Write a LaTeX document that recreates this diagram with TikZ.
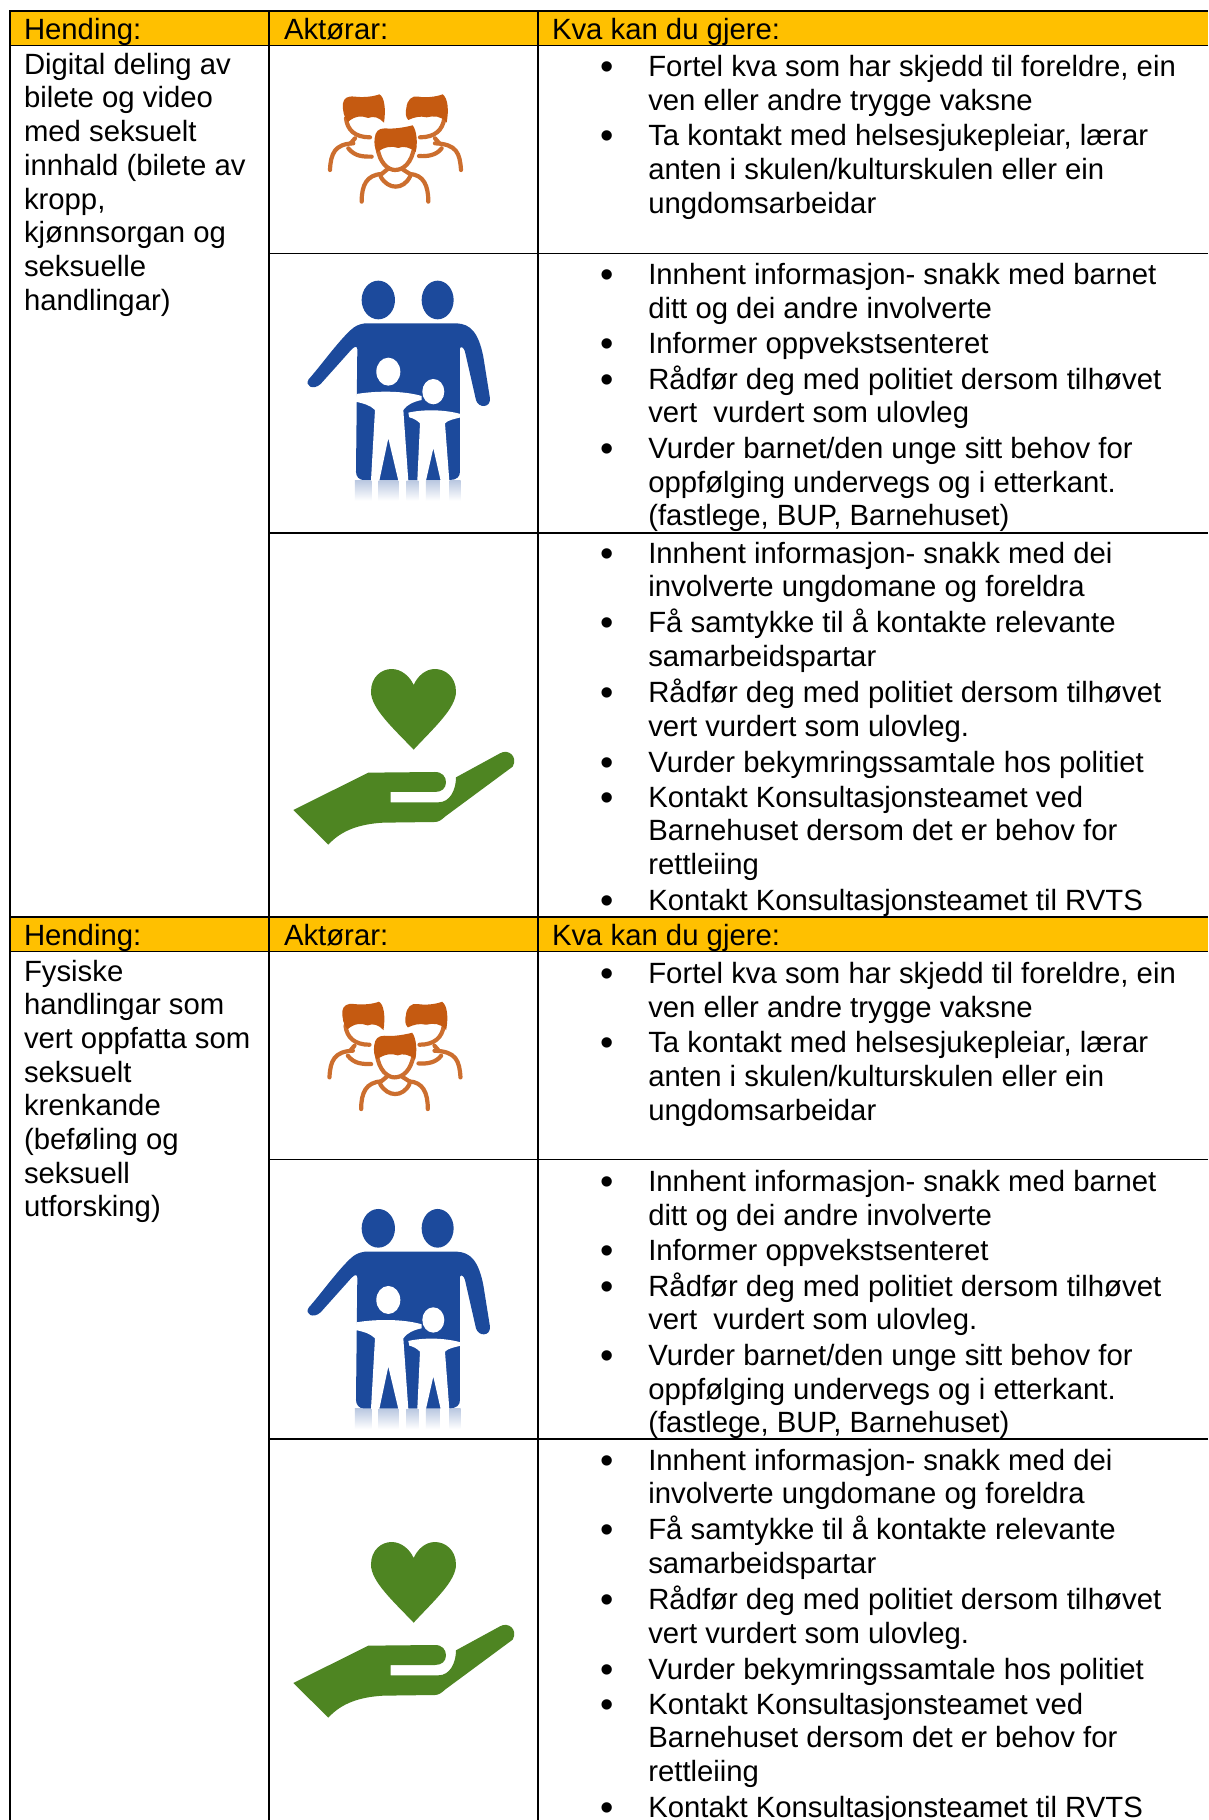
\documentclass[tikz,border=0pt]{standalone}
\usepackage{fontspec}
\setmainfont{Liberation Sans}
\definecolor{hdrc}{HTML}{FFC000}
\definecolor{orgc}{HTML}{C55A11}
\definecolor{bluc}{HTML}{1C4A9C}
\definecolor{grnc}{HTML}{4E8522}
\newcounter{nn}
\newcommand{\TxOff}{0}
\newcommand{\EndDot}{}
\newcommand{\Tx}[3]{\stepcounter{nn}\node[txt] (n\arabic{nn}) at (#1,#2) {#3};}
\newcommand{\Ln}[2]{\Tx{648.3}{{#1+\TxOff}}{#2}}
\newcommand{\Bl}[2]{\stepcounter{nn}\node[bul] (b\arabic{nn}) at (607,{#1+\TxOff+3}) {•};\Ln{#1}{#2}}
\newcommand{\TableBlock}{%
  \fill[hdrc] (10,11) rectangle (1208,45.5);
  \draw[rule] (10,11) -- (1208,11);
  \draw[rule] (10,45.5) -- (1208,45.5);
  \draw[rule] (269,253.5) -- (1208,253.5);
  \draw[rule] (269,533) -- (1208,533);
  \Tx{24}{39.5}{Hending:}
  \Tx{284}{39.5}{Aktørar:}
  \Tx{552}{39.5}{Kva kan du gjere:}
  \Bl{76.7}{Fortel kva som har skjedd til foreldre, ein}
  \Ln{110.3}{ven eller andre trygge vaksne}
  \Bl{145.2}{Ta kontakt med helsesjukepleiar, lærar}
  \Ln{179.6}{anten i skulen/kulturskulen eller ein}
  \Ln{213.2}{ungdomsarbeidar}
  \Bl{284.5}{Innhent informasjon- snakk med barnet}
  \Ln{318.1}{ditt og dei andre involverte}
  \Bl{353}{Informer oppvekstsenteret}
  \Bl{389}{Rådfør deg med politiet dersom tilhøvet}
  \Ln{422.8}{vert\ \ vurdert som ulovleg\EndDot}
  \Bl{458.5}{Vurder barnet/den unge sitt behov for}
  \Ln{492.1}{oppfølging undervegs og i etterkant.}
  \Ln{525.7}{(fastlege, BUP, Barnehuset)}
  \Bl{563}{Innhent informasjon- snakk med dei}
  \Ln{596.6}{involverte ungdomane og foreldra}
  \Bl{632.6}{Få samtykke til å kontakte relevante}
  \Ln{666.2}{samarbeidspartar}
  \Bl{702}{Rådfør deg med politiet dersom tilhøvet}
  \Ln{736.4}{vert vurdert som ulovleg.}
  \Bl{772.4}{Vurder bekymringssamtale hos politiet}
  \Bl{807}{Kontakt Konsultasjonsteamet ved}
  \Ln{840.6}{Barnehuset dersom det er behov for}
  \Ln{874.8}{rettleiing}
  \Bl{910}{Kontakt Konsultasjonsteamet til RVTS}
}
\tikzset{
  txt/.style={anchor=base west,inner sep=0pt,outer sep=0pt,text=black,font=\fontsize{29.3pt}{33.6pt}\selectfont},
  bul/.style={anchor=base,inner sep=0pt,outer sep=0pt,text=black,font=\fontsize{38pt}{38pt}\selectfont},
  rule/.style={draw=black,line width=1.7pt},
  handicon/.pic={
    \begin{scope}[x=.3333pt,y=-.3333pt]
      \fill[grnc] (431,329) .. controls (370,265) and (303,205) .. (303,155)
        .. controls (303,110) and (335,87) .. (365,87)
        .. controls (395,87) and (420,110) .. (431,135)
        .. controls (442,110) and (465,87) .. (495,87)
        .. controls (525,87) and (558,110) .. (558,155)
        .. controls (558,205) and (490,265) .. (431,329) -- cycle;
      \fill[grnc] (70,510) -- (295,398) -- (495,396)
        .. controls (517,396) and (528,410) .. (528,427)
        .. controls (528,445) and (515,456) .. (495,456)
        -- (362,456) -- (362,487) -- (505,487)
        .. controls (540,487) and (558,450) .. (558,412)
        -- (690,340) .. controls (715,325) and (745,350) .. (728,380)
        -- (525,530) .. controls (515,540) and (505,546) .. (495,546)
        -- (340,548) .. controls (270,552) and (215,570) .. (175,614) -- cycle;
    \end{scope}},
  familyicon/.pic={
    \begin{scope}[x=.3333pt,y=-.3333pt]
      \fill[bluc] (325,120) ellipse [x radius=50,y radius=58];
      \fill[bluc] (503,120) ellipse [x radius=48,y radius=58];
      \foreach \a/\b in {255/305,325/385,410/445,468/510,538/572}{
        \shade[top color=bluc!30,bottom color=white] (\a,662) rectangle (\b,722);}
      \fill[bluc] (116,358) .. controls (150,320) and (200,250) .. (240,212)
        .. controls (255,198) and (265,193) .. (285,190)
        -- (560,190) .. controls (600,192) and (625,215) .. (640,290)
        -- (660,415) .. controls (662,445) and (625,445) .. (618,420)
        -- (585,275) .. controls (582,262) and (572,258) .. (570,265)
        -- (570,635) .. controls (570,650) and (560,660) .. (540,660)
        -- (280,660) .. controls (268,660) and (258,650) .. (258,635)
        -- (262,268) .. controls (262,258) and (255,258) .. (245,268)
        -- (152,372) .. controls (130,392) and (103,378) .. (116,358) -- cycle;
      \fill[white] (355,335) ellipse [x radius=36,y radius=42];
      \fill[white] (490,395) ellipse [x radius=33,y radius=38];
      \fill[white] (260,402) .. controls (320,392) and (400,392) .. (455,408)
        -- (455,420) .. controls (430,425) and (410,435) .. (400,450)
        -- (415,662) -- (385,662) -- (355,535) -- (328,662) -- (303,662)
        -- (315,450) .. controls (300,435) and (280,430) .. (256,425) -- cycle;
      \fill[white] (415,458) .. controls (460,448) and (520,448) .. (572,462)
        -- (572,472) .. controls (550,478) and (535,480) .. (525,490)
        -- (538,662) -- (512,662) -- (490,565) -- (468,662) -- (442,662)
        -- (450,490) .. controls (440,480) and (430,475) .. (418,472) -- cycle;
    \end{scope}},
  peopleicon/.pic={
    \begin{scope}[x=.3333pt,y=-.3333pt]
      \begin{scope}[draw=orgc!88,line width=4.2pt,line cap=round]
        % left figure
        \draw (210,510) .. controls (212,460) and (225,432) .. (280,430);
        \draw (265,445) .. controls (285,470) and (310,470) .. (335,470);
        \draw (258,355) .. controls (262,390) and (285,412) .. (330,412);
        \draw (285,415) -- (272,430);
        % right figure
        \draw (603,510) .. controls (600,460) and (590,432) .. (525,430);
        \draw (545,445) .. controls (530,465) and (505,470) .. (477,468);
        \draw (553,355) .. controls (548,390) and (525,412) .. (480,412);
        \draw (525,415) -- (538,430);
        % centre figure
        \draw (305,605) .. controls (305,555) and (320,525) .. (365,522);
        \draw (505,605) .. controls (505,555) and (490,525) .. (450,522);
        \draw (362,530) .. controls (385,570) and (430,570) .. (450,530);
        \draw (352,440) .. controls (358,490) and (385,510) .. (405,510)
          .. controls (430,510) and (455,490) .. (463,440);
        \draw (382,508) -- (365,522);
        \draw (428,508) -- (450,522);
      \end{scope}
      \fill[orgc] (249,310) .. controls (251,295) and (262,287) .. (285,290)
        .. controls (310,293) and (340,290) .. (358,283)
        .. controls (374,290) and (378,330) .. (372,368)
        .. controls (357,352) and (340,347) .. (325,354)
        .. controls (305,347) and (285,347) .. (264,366)
        .. controls (252,354) and (247,330) .. (249,310) -- cycle;
      \fill[orgc] (439,325) .. controls (441,300) and (455,286) .. (475,290)
        .. controls (500,294) and (530,290) .. (548,283)
        .. controls (564,295) and (567,330) .. (560,368)
        .. controls (545,347) and (520,347) .. (500,352)
        .. controls (480,347) and (462,352) .. (445,360)
        .. controls (436,352) and (436,335) .. (439,325) -- cycle;
      \fill[orgc] (344,415) .. controls (346,395) and (355,385) .. (375,385)
        .. controls (400,388) and (435,382) .. (458,376)
        .. controls (470,390) and (474,430) .. (467,456)
        .. controls (450,442) and (430,437) .. (415,444)
        .. controls (395,437) and (375,440) .. (352,456)
        .. controls (344,447) and (342,430) .. (344,415) -- cycle;
    \end{scope}}
}
\begin{document}
\begin{tikzpicture}[x=1pt,y=-1pt]
\useasboundingbox (0,0) rectangle (1208,1820);
\fill[white] (0,0) rectangle (1208,1820);
\TableBlock
\begin{scope}[shift={(0,906)}]
\renewcommand{\TxOff}{1}
\renewcommand{\EndDot}{.}
\TableBlock
\end{scope}
\draw[rule] (10,10.2) -- (10,1820);
\draw[rule] (269,10.2) -- (269,1820);
\draw[rule] (538,10.2) -- (538,1820);
% left column, first block
\Tx{24}{74.2}{Digital deling av}
\Tx{24}{107.9}{bilete og video}
\Tx{24}{141.6}{med seksuelt}
\Tx{24}{175.3}{innhald (bilete av}
\Tx{24}{209}{kropp,}
\Tx{24}{242.7}{kjønnsorgan og}
\Tx{24}{276.4}{seksuelle}
\Tx{24}{310.1}{handlingar)}
% left column, second block
\Tx{24}{981}{Fysiske}
\Tx{24}{1014.7}{handlingar som}
\Tx{24}{1048.4}{vert oppfatta som}
\Tx{24}{1082.1}{seksuelt}
\Tx{24}{1115.8}{krenkande}
\Tx{24}{1149.5}{(beføling og}
\Tx{24}{1183.2}{seksuell}
\Tx{24}{1216.9}{utforsking)}
% icons
\pic at (260,0) {peopleicon};
\pic at (270,260) {familyicon};
\pic at (270,640) {handicon};
\pic at (259.5,907.4) {peopleicon};
\pic at (270,1188.3) {familyicon};
\pic at (270,1513) {handicon};
\end{tikzpicture}
\end{document}
